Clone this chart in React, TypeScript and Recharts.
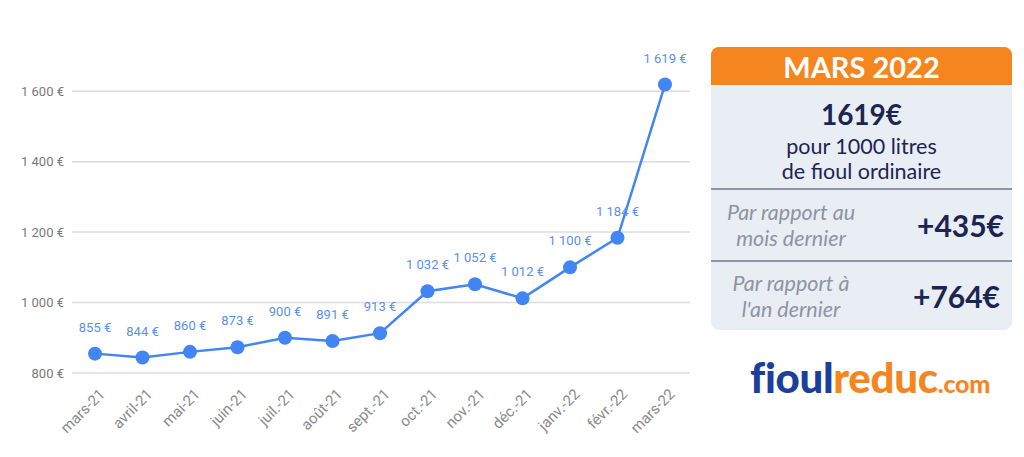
import { LineChart, Line, XAxis, YAxis, ReferenceLine, LabelList } from "recharts";

const MONTHS = [
  "mars-21", "avril-21", "mai-21", "juin-21", "juil.-21", "août-21", "sept.-21",
  "oct.-21", "nov.-21", "déc.-21", "janv.-22", "févr.-22", "mars-22",
];
const PRICES = [855, 844, 860, 873, 900, 891, 913, 1032, 1052, 1012, 1100, 1184, 1619];
const Y_TICKS = [800, 1000, 1200, 1400, 1600];

const BLUE = "#4285f4";
const LABEL_BLUE = "#5b8ff0";
const ORANGE = "#f5861f";
const NAVY = "#1c2551";

const data = MONTHS.map((m, i) => ({ month: m, price: PRICES[i] }));

const euro = (v: number) => {
  const s = String(v);
  return (s.length > 3 ? s.slice(0, s.length - 3) + " " + s.slice(-3) : s) + " €";
};

function MonthTick(props: any) {
  const { x, y, payload } = props;
  return (
    <text
      x={x}
      y={y}
      dx={10}
      dy={16}
      transform={`rotate(-45 ${x + 8} ${y + 14})`}
      textAnchor="end"
      fill="#8a8a8a"
      fontSize={15}
      fontFamily="Roboto"
    >
      {payload.value}
    </text>
  );
}

function PriceLabel(props: any) {
  const { x, y, value } = props;
  return (
    <text x={x} y={y - 22} textAnchor="middle" fill={LABEL_BLUE} fontSize={13} fontFamily="Roboto">
      {euro(value)}
    </text>
  );
}

export default function App() {
  return (
    <div style={{ position: "fixed", left: 0, top: 0, width: 1024, height: 457, background: "#fff", fontFamily: "Lato" }}>
      <LineChart width={700} height={457} data={data} margin={{ top: 56, right: 10, left: 0, bottom: 10 }}>
        {Y_TICKS.map((t) => (
          <ReferenceLine key={t} y={t} stroke="#dcdcdc" strokeWidth={1.5} />
        ))}
        <XAxis
          dataKey="month"
          height={74}
          axisLine={false}
          tickLine={false}
          interval={0}
          padding={{ left: 23, right: 25 }}
          tick={<MonthTick />}
        />
        <YAxis
          width={72}
          domain={[800, 1700]}
          ticks={Y_TICKS}
          axisLine={false}
          tickLine={false}
          tickFormatter={euro}
          tick={{ fill: "#7a7a7a", fontSize: 13, fontFamily: "Roboto" }}
        />
        <Line
          type="linear"
          dataKey="price"
          stroke={BLUE}
          strokeWidth={2.5}
          dot={{ r: 7, fill: BLUE, stroke: "none" }}
          isAnimationActive={false}
        >
          <LabelList dataKey="price" content={<PriceLabel />} />
        </Line>
      </LineChart>

      <div
        style={{
          position: "absolute", left: 711, top: 47, width: 301, height: 283,
          borderRadius: 8, overflow: "hidden", background: "#e9edf4",
        }}
      >
        <div style={{ height: 38, background: ORANGE, color: "#fff", fontWeight: 700, fontSize: 29, textAlign: "center", lineHeight: "39px" }}>
          MARS 2022
        </div>
        <div style={{ height: 105, textAlign: "center", color: NAVY, borderBottom: "2px solid #8c94a6", boxSizing: "border-box" }}>
          <div style={{ fontWeight: 700, fontSize: 28, paddingTop: 13, lineHeight: "32px", marginBottom: 4 }}>1619€</div>
          <div style={{ fontSize: 21.5, lineHeight: "25px" }}>pour 1000 litres</div>
          <div style={{ fontSize: 21.5, lineHeight: "25px" }}>de fioul ordinaire</div>
        </div>
        <div style={{ height: 72, display: "flex", alignItems: "center", borderBottom: "2px solid #8c94a6", boxSizing: "border-box" }}>
          <div style={{ width: 160, textAlign: "center", fontStyle: "italic", color: "#8e94a0", fontSize: 21.5, lineHeight: "26px" }}>
            Par rapport au<br />mois dernier
          </div>
          <div style={{ flex: 1, paddingLeft: 38, textAlign: "center", color: NAVY, fontWeight: 700, fontSize: 30 }}>+435€</div>
        </div>
        <div style={{ height: 68, display: "flex", alignItems: "center" }}>
          <div style={{ width: 160, textAlign: "center", fontStyle: "italic", color: "#8e94a0", fontSize: 21.5, lineHeight: "26px" }}>
            Par rapport à<br />l'an dernier
          </div>
          <div style={{ flex: 1, paddingLeft: 30, textAlign: "center", color: NAVY, fontWeight: 700, fontSize: 30 }}>+764€</div>
        </div>
      </div>

      <div style={{ position: "absolute", left: 750, top: 352, fontWeight: 900, fontSize: 42, letterSpacing: -0.3, whiteSpace: "nowrap" }}>
        <span style={{ color: "#1d3f9c" }}>fioul</span>
        <span style={{ color: ORANGE }}>reduc</span>
        <span style={{ color: ORANGE, fontSize: 25 }}>.com</span>
      </div>
    </div>
  );
}
